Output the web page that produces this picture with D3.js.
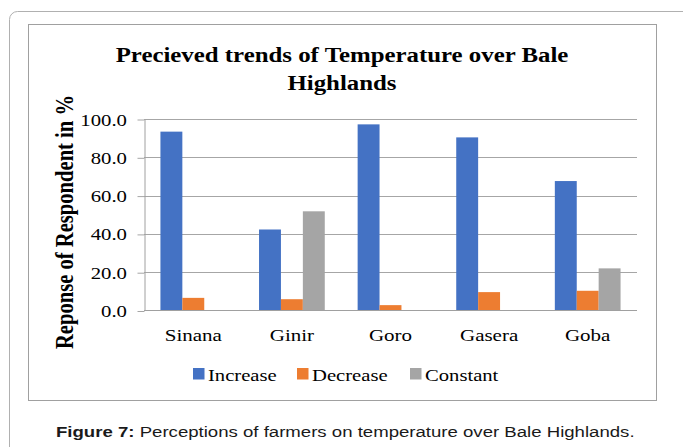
<!DOCTYPE html>
<html>
<head>
<meta charset="utf-8">
<script src="https://cdn.jsdelivr.net/npm/d3@7/dist/d3.min.js"></script>
<style>
  html, body { margin: 0; padding: 0; background: #fff; }
  svg { display: block; }
</style>
</head>
<body>
<svg id="fig" width="683" height="447"></svg>
<script>
// Districts and the share (%) of respondents per perceived temperature trend
const districts = ["Sinana", "Ginir", "Goro", "Gasera", "Goba"];
const seriesNames = ["Increase", "Decrease", "Constant"];
const increase = [93.4, 42.3, 97.2, 90.4, 67.6];
const decrease = [6.6, 5.9, 2.8, 9.6, 10.3];
const constant = [0, 51.8, 0, 0, 22.0];
const yTicks = [0, 20, 40, 60, 80, 100];
const colors = ["#4472C4", "#ED7D31", "#A5A5A5"];

const values = [increase, decrease, constant];
const rows = districts.map((d, i) => ({
  district: d,
  bars: seriesNames.map((s, k) => ({ series: s, value: values[k][i], color: colors[k] }))
}));

const svg = d3.select("#fig");
const serif = "'Liberation Serif', 'Times New Roman', serif";
const sans = "'Liberation Sans', Arial, sans-serif";
const stretch = 1.2; // lettering is set slightly wide

// outer figure frame
svg.append("rect")
  .attr("x", 9.5).attr("y", 11.5).attr("width", 690).attr("height", 460)
  .attr("rx", 8).attr("ry", 8)
  .attr("fill", "none").attr("stroke", "#b0b0b0").attr("stroke-width", 1);

// chart border
svg.append("rect")
  .attr("x", 28.5).attr("y", 24.5).attr("width", 628).attr("height", 376)
  .attr("fill", "#fff").attr("stroke", "#a0a0a0").attr("stroke-width", 1);

const plot = { left: 144, right: 637, top: 119, bottom: 310.5 };

const x = d3.scaleBand().domain(districts).range([plot.left, plot.right]).padding(0);
const barW = x.bandwidth() / 4.5;
const xs = d3.scaleBand().domain(seriesNames)
  .range([0.75 * barW, 3.75 * barW]).padding(0);
const y = d3.scaleLinear().domain([0, 100]).range([plot.bottom, plot.top]);

// title
const title = svg.append("g");
[["Precieved trends of Temperature over Bale", 62], ["Highlands", 90]].forEach(([t, by]) => {
  title.append("text")
    .attr("transform", `translate(342,${by}) scale(${stretch},1)`)
    .attr("text-anchor", "middle")
    .attr("font-family", serif).attr("font-weight", "bold").attr("font-size", 20.7)
    .attr("fill", "#000").text(t);
});

// gridlines
svg.append("g")
  .selectAll("line")
  .data(yTicks.filter(t => t > 0))
  .join("line")
  .attr("x1", plot.left).attr("x2", plot.right)
  .attr("y1", d => Math.round(y(d)) + 0.5).attr("y2", d => Math.round(y(d)) + 0.5)
  .attr("stroke", "#a6a6a6").attr("stroke-width", 1);

// y axis
const yAxis = svg.append("g")
  .attr("transform", `translate(${plot.left + 0.5},0)`)
  .call(d3.axisLeft(y).tickValues(yTicks).tickSize(7).tickSizeOuter(0)
    .tickFormat(d => d.toFixed(1)));
yAxis.select(".domain").attr("stroke", "#a0a0a0");
yAxis.selectAll(".tick line").attr("stroke", "#a6a6a6")
  .attr("transform", "translate(0,0.5)");
yAxis.selectAll(".tick text")
  .attr("x", null).attr("dy", null)
  .attr("transform", `translate(-17.5,6) scale(${stretch},1)`)
  .attr("font-family", serif).attr("font-size", 17.3).attr("fill", "#000");

// bars
const groups = svg.append("g")
  .selectAll("g")
  .data(rows)
  .join("g")
  .attr("transform", d => `translate(${x(d.district)},0)`);
groups.selectAll("rect")
  .data(d => d.bars.filter(b => b.value > 0))
  .join("rect")
  .attr("x", d => xs(d.series))
  .attr("width", xs.bandwidth())
  .attr("y", d => y(d.value))
  .attr("height", d => y(0) - y(d.value))
  .attr("fill", d => d.color);

// x axis line
svg.append("line")
  .attr("x1", plot.left).attr("x2", plot.right)
  .attr("y1", plot.bottom).attr("y2", plot.bottom)
  .attr("stroke", "#a0a0a0").attr("stroke-width", 1);

// category labels
svg.append("g")
  .selectAll("text")
  .data(districts)
  .join("text")
  .attr("transform", d => `translate(${x(d) + x.bandwidth() / 2},341) scale(${stretch},1)`)
  .attr("text-anchor", "middle")
  .attr("font-family", serif).attr("font-size", 17.5).attr("fill", "#000")
  .text(d => d);

// y axis title
svg.append("text")
  .attr("transform", `translate(73,222) scale(${stretch},1) rotate(-90)`)
  .attr("text-anchor", "middle")
  .attr("font-family", serif).attr("font-weight", "bold").attr("font-size", 20.6)
  .attr("fill", "#000")
  .text("Reponse of Respondent in %");

// legend
const legendX = [193, 297, 410];
const legend = svg.append("g")
  .selectAll("g")
  .data(seriesNames)
  .join("g")
  .attr("transform", (d, i) => `translate(${legendX[i]},0)`);
legend.append("rect")
  .attr("x", 0).attr("y", 368).attr("width", 11.5).attr("height", 11.5)
  .attr("fill", (d, i) => colors[i]);
legend.append("text")
  .attr("transform", `translate(15,380.5) scale(${stretch},1)`)
  .attr("font-family", serif).attr("font-size", 17.2).attr("fill", "#000")
  .text(d => d);

// figure caption
const cap = svg.append("text")
  .attr("transform", `translate(56,437) scale(${stretch},1)`)
  .attr("font-family", sans).attr("font-size", 15.5).attr("fill", "#1a1a1a");
cap.append("tspan").attr("font-weight", "bold").text("Figure 7:");
cap.append("tspan").text(" Perceptions of farmers on temperature over Bale Highlands.");
</script>
</body>
</html>
